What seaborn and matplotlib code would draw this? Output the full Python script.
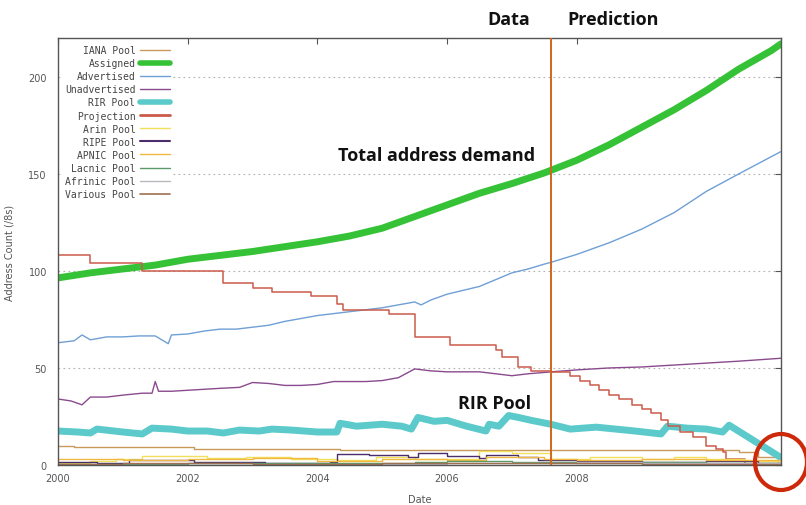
import matplotlib
matplotlib.use("Agg")
import matplotlib.pyplot as plt
import matplotlib.patches as mpatches
from matplotlib.transforms import IdentityTransform
import seaborn as sns
import pandas as pd

# ---------------- data (decimal years, /8 counts) ----------------
iana_x = [2000.0, 2000.25, 2002.1, 2004.35, 2010.3, 2010.5, 2010.8, 2011.1]
iana_y = [10.0, 9.2, 8.4, 7.8, 7.8, 6.5, 4.0, 1.5]

assigned_x = [2000.0, 2000.5, 2001.0, 2001.5, 2002.0, 2002.5, 2003.0, 2003.5, 2004.0,
              2004.5, 2005.0, 2005.5, 2006.0, 2006.5, 2007.0, 2007.5, 2008.0, 2008.5,
              2009.0, 2009.5, 2010.0, 2010.5, 2011.0, 2011.15]
assigned_y = [96.4, 99.0, 101.0, 103.0, 106.0, 108.0, 110.0, 112.5, 115.0,
              118.0, 122.0, 128.0, 134.0, 140.0, 145.0, 150.5, 157.0, 165.0,
              174.0, 183.0, 193.0, 204.0, 213.5, 217.0]

advertised_x = [2000.0, 2000.25, 2000.37, 2000.5, 2000.75, 2001.0, 2001.25, 2001.5, 2001.7,
                2001.75, 2002.0, 2002.25, 2002.5, 2002.75, 2003.0, 2003.25, 2003.5, 2003.75,
                2004.0, 2004.25, 2004.5, 2004.75, 2005.0, 2005.25, 2005.5, 2005.6, 2005.75,
                2006.0, 2006.25, 2006.5, 2006.75, 2007.0, 2007.25, 2007.5, 2007.61, 2008.0,
                2008.5, 2009.0, 2009.5, 2010.0, 2010.5, 2011.15]
advertised_y = [63.0, 64.0, 67.0, 64.5, 66.0, 66.0, 66.5, 66.5, 62.5,
                67.0, 67.5, 69.0, 70.0, 70.0, 71.0, 72.0, 74.0, 75.5,
                77.0, 78.0, 79.0, 80.0, 81.0, 82.5, 84.0, 82.5, 85.0,
                88.0, 90.0, 92.0, 95.5, 99.0, 101.0, 103.5, 104.5, 108.5,
                114.5, 121.5, 130.0, 141.0, 150.0, 161.5]

unadv_x = [2000.0, 2000.2, 2000.37, 2000.5, 2000.75, 2001.0, 2001.3, 2001.45, 2001.5,
           2001.55, 2001.75, 2002.0, 2002.25, 2002.5, 2002.8, 2003.0, 2003.25, 2003.5,
           2003.75, 2004.0, 2004.25, 2004.5, 2004.75, 2005.0, 2005.25, 2005.5, 2005.75,
           2006.0, 2006.25, 2006.5, 2006.75, 2007.0, 2007.25, 2007.61, 2008.0, 2008.5,
           2009.0, 2009.5, 2010.0, 2010.5, 2011.15]
unadv_y = [34.0, 33.0, 31.0, 35.0, 35.0, 36.0, 37.0, 37.0, 43.0,
           38.0, 38.0, 38.5, 39.0, 39.5, 40.0, 42.5, 42.0, 41.0,
           41.0, 41.5, 43.0, 43.0, 43.0, 43.5, 45.0, 49.5, 48.5,
           48.0, 48.0, 48.0, 47.0, 46.0, 47.0, 48.0, 49.0, 50.0,
           50.5, 51.5, 52.5, 53.5, 55.0]

rir_x = [2000.0, 2000.3, 2000.5, 2000.6, 2001.0, 2001.3, 2001.45, 2001.75, 2002.0, 2002.3,
         2002.55, 2002.8, 2003.1, 2003.3, 2003.6, 2004.0, 2004.3, 2004.35, 2004.6, 2005.0,
         2005.3, 2005.45, 2005.55, 2005.8, 2006.0, 2006.3, 2006.6, 2006.65, 2006.8, 2006.95,
         2007.1, 2007.3, 2007.6, 2007.9, 2008.3, 2008.6, 2008.9, 2009.3, 2009.4, 2009.7,
         2010.0, 2010.25, 2010.35, 2011.15]
rir_y = [17.5, 17.0, 16.5, 18.5, 17.0, 16.0, 19.0, 18.5, 17.5, 17.5,
         16.5, 18.0, 17.5, 18.5, 18.0, 17.0, 17.0, 21.5, 20.0, 21.0,
         20.0, 18.5, 24.5, 22.5, 23.0, 20.0, 17.5, 21.0, 20.0, 25.5,
         24.5, 23.0, 21.0, 18.5, 19.5, 18.5, 17.5, 16.0, 20.0, 19.0,
         18.5, 17.0, 20.5, 3.8]

proj_x = [2000.0, 2000.5, 2001.3, 2002.55, 2003.0, 2003.3, 2003.9, 2004.3, 2004.4, 2005.1,
          2005.5, 2006.04, 2006.75, 2006.85, 2007.1, 2007.3, 2007.61, 2007.9, 2008.05, 2008.2,
          2008.35, 2008.5, 2008.65, 2008.85, 2009.0, 2009.15, 2009.3, 2009.4, 2009.6, 2009.8,
          2010.0, 2010.15, 2010.25, 2010.3, 2010.6]
proj_y = [108.0, 104.0, 100.0, 94.0, 91.0, 89.0, 87.0, 83.0, 80.0, 78.0,
          66.0, 62.0, 59.0, 55.5, 50.5, 48.5, 48.0, 46.0, 43.5, 41.0,
          38.5, 36.0, 34.0, 31.0, 29.0, 27.0, 23.0, 20.0, 17.0, 14.5,
          10.0, 8.0, 6.5, 3.0, 0.5]

arin_x = [2000.0, 2000.5, 2000.9, 2001.3, 2002.3, 2002.9, 2003.6, 2004.3, 2004.9, 2005.5,
          2006.5, 2007.0, 2007.6, 2008.2, 2009.0, 2009.5, 2010.0, 2010.6, 2011.15]
arin_y = [1.0, 2.0, 3.0, 4.8, 3.5, 4.2, 3.0, 2.5, 4.0, 3.0,
          7.0, 6.0, 3.0, 4.0, 3.0, 4.0, 3.0, 2.0, 1.0]

ripe_x = [2000.0, 2000.6, 2001.1, 2002.1, 2003.2, 2004.2, 2004.3, 2004.8, 2005.4, 2005.55,
          2006.0, 2006.5, 2006.6, 2007.1, 2007.4, 2008.0, 2009.0, 2010.0, 2010.8, 2011.15]
ripe_y = [1.5, 1.0, 2.5, 1.5, 1.0, 1.5, 5.8, 5.0, 4.0, 6.0,
          4.5, 3.5, 5.0, 4.0, 2.5, 2.0, 1.5, 2.0, 1.0, 0.5]

apnic_x = [2000.0, 2001.0, 2002.0, 2003.0, 2004.0, 2005.0, 2006.0, 2006.6, 2007.5, 2008.0,
           2009.0, 2010.0, 2011.15]
apnic_y = [3.0, 2.5, 3.0, 3.5, 2.0, 3.0, 2.5, 4.0, 3.0, 2.5, 3.0, 2.5, 1.0]

lacnic_x = [2000.0, 2002.0, 2004.0, 2005.5, 2006.0, 2007.0, 2008.0, 2009.0, 2010.0, 2011.15]
lacnic_y = [0.5, 0.8, 1.0, 1.5, 2.0, 1.5, 1.2, 1.5, 1.0, 0.5]

afrinic_x = [2000.0, 2005.0, 2006.0, 2007.0, 2008.0, 2009.0, 2010.0, 2011.15]
afrinic_y = [0.0, 0.5, 1.0, 1.0, 1.5, 1.0, 1.0, 0.5]

various_x = [2000.0, 2001.0, 2003.0, 2005.0, 2007.0, 2009.0, 2011.15]
various_y = [0.5, 0.8, 0.5, 1.0, 0.8, 0.6, 0.3]

series_names = ["IANA Pool", "Assigned", "Advertised", "Unadvertised", "RIR Pool", "Projection",
                "Arin Pool", "RIPE Pool", "APNIC Pool", "Lacnic Pool", "Afrinic Pool", "Various Pool"]
year_ticks = [2000, 2002, 2004, 2006, 2008]
y_ticks = [0, 50, 100, 150, 200]
split_year = 2007.61

# ---------------- style ----------------
sns.set_style("white")
plt.rcParams["font.family"] = ["DejaVu Sans"]

fig = plt.figure(figsize=(8.06, 5.06), dpi=100)
ax = fig.add_axes([58 / 806, 40 / 506, 723 / 806, 427 / 506])

data = [
    (iana_x, iana_y, "#c89a5a", 1.0, "steps-post"),
    (assigned_x, assigned_y, "#36c236", 5.0, "default"),
    (advertised_x, advertised_y, "#6f9fd6", 1.0, "default"),
    (unadv_x, unadv_y, "#8a4a8e", 1.0, "default"),
    (rir_x, rir_y, "#5ccaca", 5.0, "default"),
    (proj_x, proj_y, "#cc5a4a", 1.1, "steps-post"),
    (arin_x, arin_y, "#f2df5a", 1.0, "steps-post"),
    (ripe_x, ripe_y, "#4b2d6b", 1.0, "steps-post"),
    (apnic_x, apnic_y, "#f0b840", 1.0, "steps-post"),
    (lacnic_x, lacnic_y, "#5a9a6a", 1.0, "steps-post"),
    (afrinic_x, afrinic_y, "#b8b8c0", 1.0, "steps-post"),
    (various_x, various_y, "#a07050", 1.0, "steps-post"),
]

legend_lw = [1.0, 4.0, 1.0, 1.0, 4.0, 2.0, 1.0, 1.5, 1.0, 1.0, 1.0, 1.2]
handles = []
for (xs, ys, col, lw, ds), name, llw in zip(data, series_names, legend_lw):
    df = pd.DataFrame({"year": xs, "count": ys})
    sns.lineplot(data=df, x="year", y="count", ax=ax, color=col, lw=lw,
                 drawstyle=ds, estimator=None, sort=False, legend=False,
                 solid_capstyle="round" if lw > 2 else "butt")
    handles.append(plt.Line2D([], [], color=col, lw=llw))

# data / prediction separator
ax.axvline(split_year, color="#d2661e", lw=1.4, zorder=5)

ax.set_xlim(2000, 2011.15)
ax.set_ylim(0, 220)
ax.set_xticks(year_ticks)
ax.set_xticklabels([str(t) for t in year_ticks])
ax.set_yticks(y_ticks)
ax.set_yticklabels([str(t) for t in y_ticks])
for t in y_ticks[1:]:
    ax.axhline(t, color="#b0b0b0", lw=0.8, ls=(0, (1.5, 3)), zorder=0)

ax.tick_params(axis="both", direction="in", length=4, width=0.8, colors="#555555",
               labelsize=7, top=True, right=True)
ax.tick_params(axis="x", pad=6)
ax.tick_params(axis="y", pad=8)
for s in ax.spines.values():
    s.set_color("#555555")
    s.set_linewidth(1.0)
ax.set_xlabel("Date", fontsize=7, color="#555555", labelpad=8)
ax.set_ylabel("Address Count (/8s)", fontsize=7, color="#555555", labelpad=10)

leg = ax.legend(handles, series_names, loc="upper left", markerfirst=False,
                bbox_to_anchor=(5 / 723, 1 - 5 / 427), borderaxespad=0, borderpad=0.2,
                frameon=True, framealpha=1, facecolor="white", edgecolor="none",
                fancybox=False, handlelength=3.1, handletextpad=0.5, labelspacing=0.32,
                prop={"family": "DejaVu Sans Mono", "size": 7})
for t in leg.get_texts():
    t.set_color("#444444")
    t.set_ha("right")
leg._legend_box.align = "right"

# annotations
bold = dict(family="Open Sans", weight="bold", color="#111111", fontsize=13)
fig.text(509 / 806, 1 - 20 / 506, "Data", ha="center", va="center", **bold)
fig.text(613 / 806, 1 - 20 / 506, "Prediction", ha="center", va="center", **bold)
fig.text(437 / 806, 1 - 156 / 506, "Total address demand", ha="center", va="center", **bold)
fig.text(495 / 806, 1 - 404 / 506, "RIR Pool", ha="center", va="center", **bold)

circ = mpatches.Ellipse((781, 506 - 463), 52, 56, transform=IdentityTransform(),
                        fill=False, edgecolor="#cc2a0a", lw=3.0, zorder=10)
fig.add_artist(circ)

fig.savefig("out.png", dpi=100)
